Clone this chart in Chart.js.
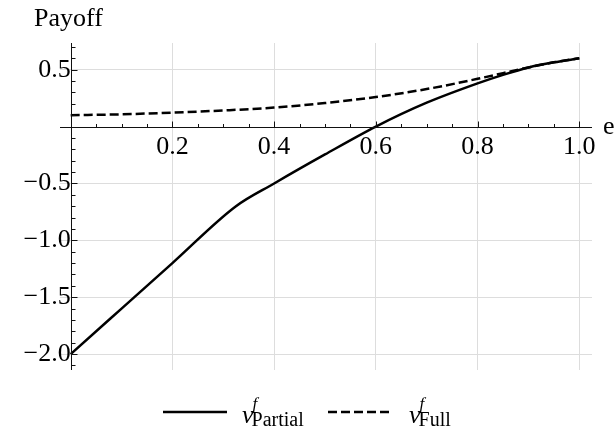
<!DOCTYPE html>
<html><head><meta charset="utf-8">
<script src="https://cdn.jsdelivr.net/npm/chart.js@4"></script>
<style>html,body{margin:0;padding:0;background:#fff}</style>
</head><body>
<canvas id="c" width="614" height="433"></canvas>
<script>
// ---- data ----
const partialE = [0, 0.1, 0.2, 0.325, 0.4, 0.5, 0.6, 0.7, 0.8, 0.85, 0.9, 0.95, 1.0];
const partialPayoff = [-2.0, -1.6, -1.2, -0.70, -0.50, -0.245, 0.0, 0.21, 0.38, 0.455, 0.52, 0.565, 0.60];
const fullE = [0, 0.1, 0.2, 0.3, 0.4, 0.5, 0.6, 0.7, 0.8, 0.85, 0.9, 0.95, 1.0];
const fullPayoff = [0.100, 0.108, 0.123, 0.142, 0.167, 0.207, 0.26, 0.33, 0.42, 0.47, 0.52, 0.565, 0.60];
const xTickValues = [0.2, 0.4, 0.6, 0.8, 1.0];
const yTickValues = [0.5, -0.5, -1.0, -1.5, -2.0];
const xAxisTitle = 'e';
const yAxisTitle = 'Payoff';
const legendEntries = [
  { main: 'v', sup: 'f', sub: 'Partial' },
  { main: 'v', sup: 'f', sub: 'Full' }
];

const SERIF = '"Liberation Serif", "Times New Roman", serif';
const fmt = v => (v < 0 ? '\u2212' : '') + Math.abs(v).toFixed(1);

const toPts = (xs, ys) => xs.map((x, i) => ({ x, y: ys[i] }));

const decorPlugin = {
  id: 'decor',
  afterDraw(chart) {
    const { ctx, chartArea: a, scales: { x, y } } = chart;
    const x0 = x.getPixelForValue(0), y0 = y.getPixelForValue(0);
    ctx.save();
    ctx.strokeStyle = '#111';
    ctx.lineWidth = 1;
    const line = (x1, y1, x2, y2) => { ctx.beginPath(); ctx.moveTo(x1, y1); ctx.lineTo(x2, y2); ctx.stroke(); };
    const px0 = Math.round(x0) + 0.5, py0 = Math.round(y0) + 0.5;
    line(a.left, py0, a.right, py0);
    line(px0, a.top, px0, a.bottom);
    for (let k = 1; k <= 20; k++) {
      const v = k * 0.05;
      const px = Math.round(x.getPixelForValue(v)) + 0.5;
      const len = (k % 4 === 0) ? 6 : 3.5;
      line(px, py0, px, py0 - len);
    }
    for (let k = -21; k <= 7; k++) {
      if (k === 0) continue;
      const v = k * 0.1;
      const py = Math.round(y.getPixelForValue(v)) + 0.5;
      const len = (k % 5 === 0) ? 6 : 4;
      line(px0, py, px0 + len, py);
    }
    ctx.fillStyle = '#000';
    ctx.textBaseline = 'alphabetic';
    ctx.textAlign = 'left';
    ctx.font = '26px ' + SERIF;
    ctx.fillText(yAxisTitle, 34, 26);
    ctx.fillText(xAxisTitle, 603, 134);
    const ly = 412;
    const items = [
      { x1: 163, x2: 227, tx: 242, ds: chart.data.datasets[0], le: legendEntries[0] },
      { x1: 328, x2: 392, tx: 409, ds: chart.data.datasets[1], le: legendEntries[1] }
    ];
    items.forEach(it => {
      ctx.strokeStyle = it.ds.borderColor;
      ctx.lineWidth = it.ds.borderWidth;
      ctx.setLineDash(it.ds.borderDash || []);
      line(it.x1, ly, it.x2, ly);
      ctx.setLineDash([]);
      ctx.font = 'italic 26px ' + SERIF;
      ctx.fillText(it.le.main, it.tx, 423);
      const w = ctx.measureText(it.le.main).width;
      ctx.font = 'italic 17px ' + SERIF;
      ctx.fillText(it.le.sup, it.tx + w - 1, 409);
      ctx.font = '20px ' + SERIF;
      ctx.fillText(it.le.sub, it.tx + w - 2, 426);
    });
    ctx.restore();
  }
};

new Chart(document.getElementById('c'), {
  type: 'line',
  data: {
    datasets: [
      { label: 'v_Partial^f', data: toPts(partialE, partialPayoff), borderColor: '#000', borderWidth: 2.5, pointRadius: 0, cubicInterpolationMode: 'monotone', fill: false },
      { label: 'v_Full^f', data: toPts(fullE, fullPayoff), borderColor: '#000', borderWidth: 2.5, borderDash: [9, 4], pointRadius: 0, cubicInterpolationMode: 'monotone', fill: false }
    ]
  },
  options: {
    responsive: false,
    devicePixelRatio: 1,
    animation: false,
    layout: { padding: { left: 60, right: 22, top: 43, bottom: 63 } },
    plugins: { legend: { display: false }, tooltip: { enabled: false } },
    scales: {
      x: {
        type: 'linear',
        min: -0.021, max: 1.025,
        position: { y: 0 },
        afterBuildTicks: s => { s.ticks = xTickValues.map(v => ({ value: v })); },
        grid: { color: '#dddddd', lineWidth: 1, drawTicks: false },
        border: { display: false },
        ticks: { callback: v => fmt(v), color: '#000', font: { family: SERIF, size: 26 }, padding: 5, maxRotation: 0, autoSkip: false }
      },
      y: {
        type: 'linear',
        min: -2.14, max: 0.735,
        position: { x: 0 },
        afterBuildTicks: s => { s.ticks = yTickValues.map(v => ({ value: v })); },
        grid: { color: '#dddddd', lineWidth: 1, drawTicks: false },
        border: { display: false },
        ticks: { callback: v => fmt(v), color: '#000', font: { family: SERIF, size: 26 }, padding: 7, autoSkip: false }
      }
    }
  },
  plugins: [decorPlugin]
});
</script>
</body></html>
